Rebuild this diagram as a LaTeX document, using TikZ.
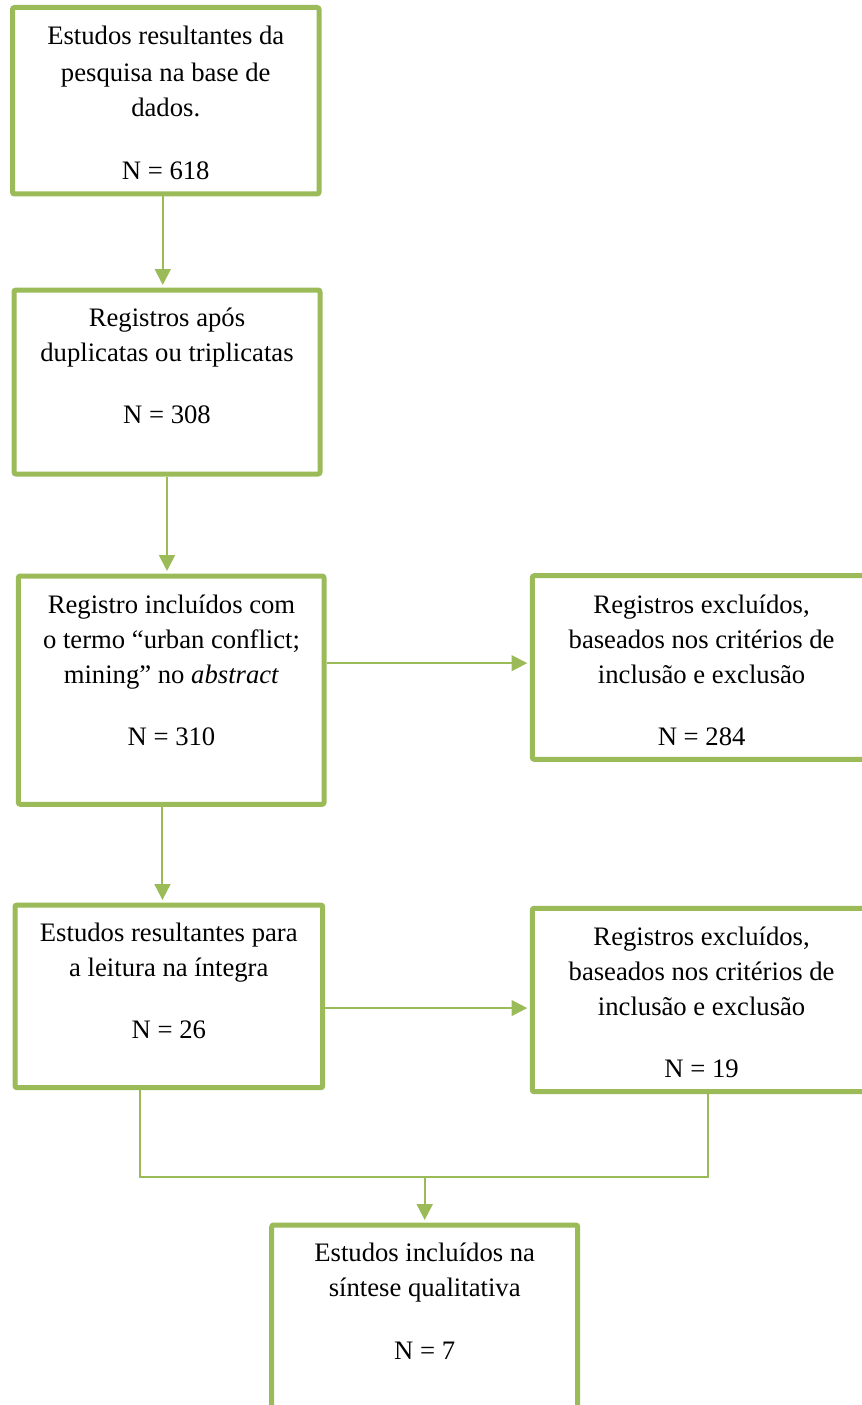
\documentclass[tikz,border=0pt]{standalone}
\usepackage{fontspec}
\setmainfont{Liberation Serif}
\usetikzlibrary{arrows.meta,calc}
\definecolor{olive}{RGB}{155,187,89}
\newlength{\px}
\setlength{\px}{0.75pt}
\tikzset{
  box/.style={draw=olive, line width=3.75pt, fill=white, rounded corners=1.5pt, inner sep=0pt},
  txt/.style={anchor=base, inner sep=0pt, font=\fontsize{20}{24}\selectfont},
  conn/.style={draw=olive, line width=1.5pt},
  arr/.style={conn, -{Triangle[width=11.8pt,length=11.8pt]}, shorten >=1.9pt}
}
\begin{document}
\begin{tikzpicture}[x=0.75pt,y=-0.75pt]
\useasboundingbox (0,0) rectangle (862,1405);
\clip (0,0) rectangle (862,1405);
% boxes
\node[box, minimum width=306.5\px, minimum height=186.5\px] (b1) at (165.75,100.75) {};
\node[box, minimum width=306\px, minimum height=184\px] (b2) at (167,382) {};
\node[box, minimum width=305.7\px, minimum height=228.3\px] (b3) at (171.15,690.15) {};
\node[box, minimum width=338.7\px, minimum height=183.6\px] (b4) at (701.65,667.5) {};
\node[box, minimum width=307.7\px, minimum height=182.7\px] (b5) at (168.85,996.35) {};
\node[box, minimum width=338.7\px, minimum height=183.4\px] (b6) at (701.65,1000) {};
\node[box, minimum width=306\px, minimum height=186\px] (b7) at (424.7,1318) {};
% texts
\node[txt] (t1a) at (165.75,45) {Estudos resultantes da};
\node[txt] (t1b) at (165.75,81.5) {pesquisa na base de};
\node[txt] (t1c) at (165.75,116.7) {dados.};
\node[txt] (t1n) at (165.75,179.3) {N = 618};
\node[txt] (t2a) at (167,326.7) {Registros após};
\node[txt] (t2b) at (167,361.7) {duplicatas ou triplicatas};
\node[txt] (t2n) at (167,423.3) {N = 308};
\node[txt] (t3a) at (171.5,613.3) {Registro incluídos com};
\node[txt] (t3b) at (171.5,648.3) {o termo “urban conflict;};
\node[txt] (t3c) at (171.5,683.3) {mining” no \textit{abstract}};
\node[txt] (t3n) at (171.5,745) {N = 310};
\node[txt] (t4a) at (701.6,613.3) {Registros excluídos,};
\node[txt] (t4b) at (701.6,648.3) {baseados nos critérios de};
\node[txt] (t4c) at (701.6,683.3) {inclusão e exclusão};
\node[txt] (t4n) at (701.6,745) {N = 284};
\node[txt] (t5a) at (168.8,941.7) {Estudos resultantes para};
\node[txt] (t5b) at (168.8,976.7) {a leitura na íntegra};
\node[txt] (t5n) at (168.8,1038.3) {N = 26};
\node[txt] (t6a) at (701.6,945) {Registros excluídos,};
\node[txt] (t6b) at (701.6,980) {baseados nos critérios de};
\node[txt] (t6c) at (701.6,1015) {inclusão e exclusão};
\node[txt] (t6n) at (701.6,1077.7) {N = 19};
\node[txt] (t7a) at (424.7,1261.7) {Estudos incluídos na};
\node[txt] (t7b) at (424.7,1296.7) {síntese qualitativa};
\node[txt] (t7n) at (424.7,1359.3) {N = 7};
% connectors
\coordinate (a1) at ($(b1.south)+(-3,0)$);
\draw[arr] (a1) -- (a1 |- b2.north);
\coordinate (a2) at ($(b2.south)+(0,0)$);
\draw[arr] (a2) -- (a2 |- b3.north);
\coordinate (a3) at ($(b3.south)+(-8.7,0)$);
\draw[arr] (a3) -- (a3 |- b5.north);
\coordinate (h1) at ($(b3.east)+(0,-27)$);
\draw[arr] (h1) -- (h1 -| b4.west);
\coordinate (h2) at ($(b5.east)+(0,11.7)$);
\draw[arr] (h2) -- (h2 -| b6.west);
\coordinate (b5o) at ($(b5.south west)+(127,0)$);
\coordinate (b6o) at ($(b6.south west)+(177.7,0)$);
\coordinate (j) at (424.7,1177);
\draw[conn] (b5o) |- (j);
\draw[conn] (b6o) |- (j);
\draw[arr] (j) -- (j |- b7.north);
\end{tikzpicture}
\end{document}
